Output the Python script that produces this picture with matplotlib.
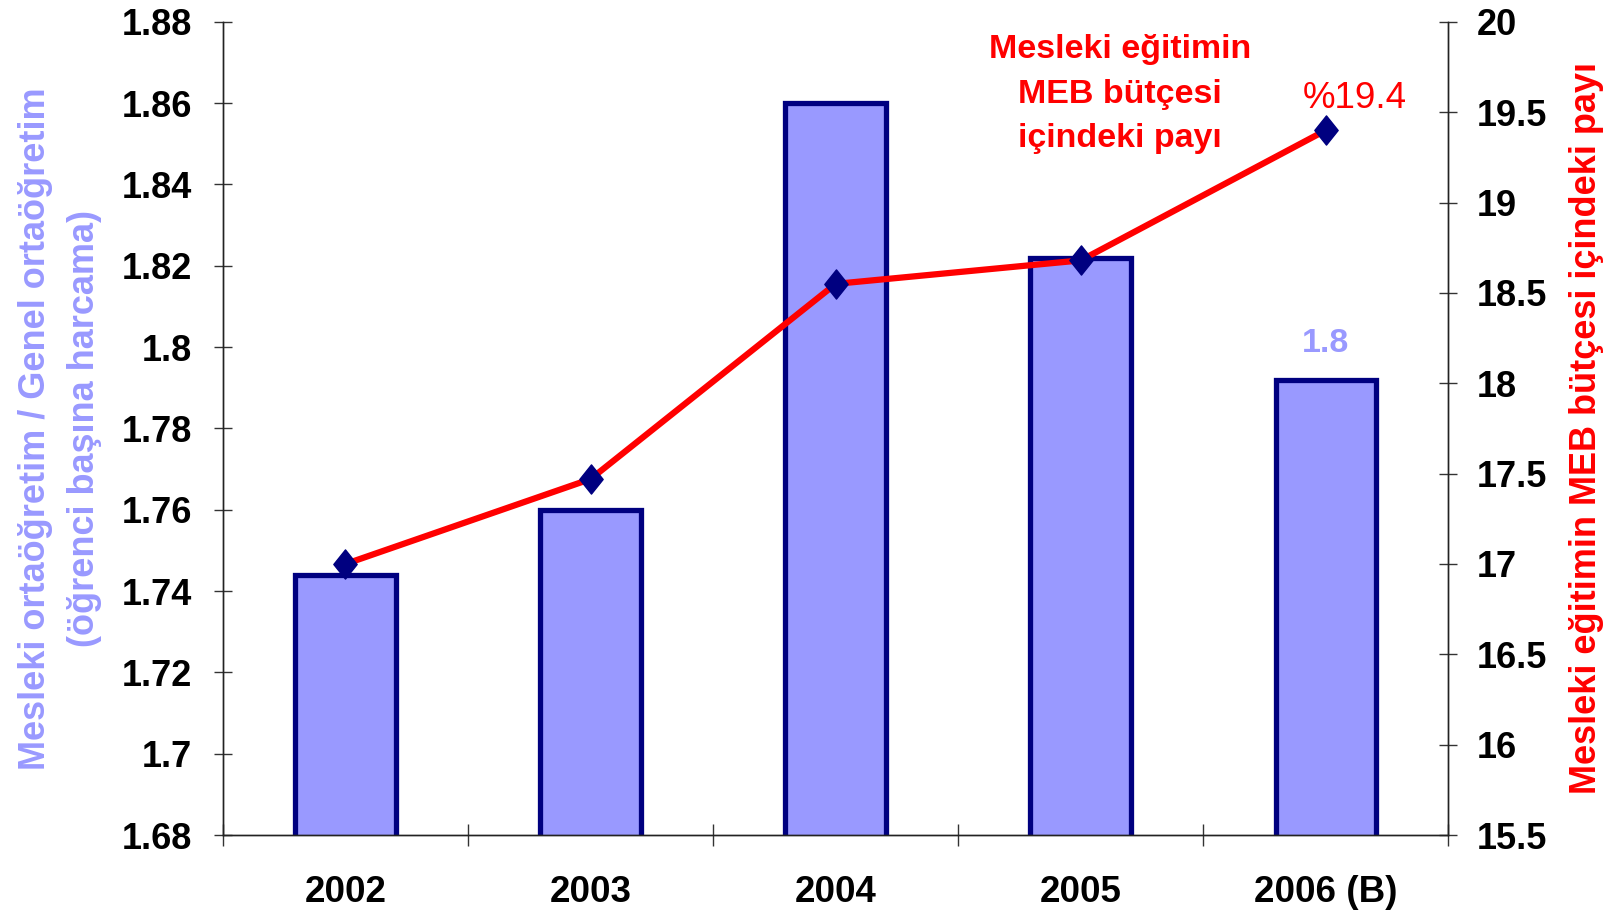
import matplotlib
matplotlib.use("Agg")
import matplotlib.pyplot as plt
from matplotlib.path import Path

plt.rcParams["font.family"] = ["Liberation Sans", "DejaVu Sans"]

years = ["2002", "2003", "2004", "2005", "2006 (B)"]
ratio = [1.744, 1.760, 1.860, 1.822, 1.792]          # bars, left axis
share = [17.0, 17.47, 18.55, 18.68, 19.4]            # line, right axis

left_ticks = [1.68, 1.70, 1.72, 1.74, 1.76, 1.78, 1.80, 1.82, 1.84, 1.86, 1.88]
right_ticks = [15.5, 16, 16.5, 17, 17.5, 18, 18.5, 19, 19.5, 20]

bar_fill = "#9999FF"
navy = "#000080"
red = "#FF0000"

fig = plt.figure(figsize=(16.11, 9.11), dpi=100)
ax = fig.add_axes([0.1384, 0.0834, 0.7606, 0.8926])
ax2 = ax.twinx()

x = list(range(len(years)))
ax.bar(x, ratio, width=0.41, color=bar_fill, edgecolor=navy, linewidth=3.8, zorder=2)
ax.set_ylim(1.68, 1.88)
ax.set_xlim(-0.5, len(years) - 0.5)
ax.set_yticks(left_ticks)
ax.set_yticklabels([f"{v:g}" for v in left_ticks])

# category ticks sit between bars, labels under the bar centres
ax.set_xticks(x)
ax.set_xticklabels(years)
ax.set_xticks([i - 0.5 for i in range(len(years) + 1)], minor=True)
ax.tick_params(axis="x", which="major", length=0, pad=29, labelsize=26.5)
ax.tick_params(axis="x", which="minor", direction="inout", length=16, width=1, color="#333333")
for lab in ax.get_xticklabels():
    lab.set_fontweight("bold")

ax.tick_params(axis="y", direction="inout", length=13, width=1, color="#333333", pad=16, labelsize=26)
for lab in ax.get_yticklabels():
    lab.set_fontweight("bold")

ax.set_ylabel("Mesleki ortaöğretim / Genel ortaöğretim\n(öğrenci başına harcama)",
              color=bar_fill, fontsize=26, fontweight="bold", labelpad=14, linespacing=1.5)

# tall diamond, like the stretched original
diamond = Path([(0, 1), (0.8, 0), (0, -1), (-0.8, 0), (0, 1)],
               [Path.MOVETO, Path.LINETO, Path.LINETO, Path.LINETO, Path.CLOSEPOLY])
ax2.plot(x, share, color=red, linewidth=4.5, zorder=3)
ax2.plot(x, share, linestyle="none", marker=diamond, markersize=21,
         markerfacecolor=navy, markeredgecolor=navy, zorder=4)
ax2.set_ylim(15.5, 20)
ax2.set_yticks(right_ticks)
ax2.set_yticklabels([f"{v:g}" for v in right_ticks])
ax2.tick_params(axis="y", direction="inout", length=13, width=1, color="#333333", pad=14, labelsize=26)
for lab in ax2.get_yticklabels():
    lab.set_fontweight("bold")
ax2.set_ylabel("Mesleki eğitimin MEB bütçesi içindeki payı", color=red,
               fontsize=26, fontweight="bold", labelpad=16)

for a in (ax, ax2):
    a.spines["top"].set_visible(False)
    for s in ("left", "right", "bottom"):
        a.spines[s].set_color("#222222")
        a.spines[s].set_linewidth(1.0)
    a.set_facecolor("none")

# data labels
ax.annotate(f"{ratio[-1]:.1f}", (x[-1], ratio[-1]), xytext=(0, 15), textcoords="offset points",
            ha="center", va="bottom", color=bar_fill, fontsize=24.5, fontweight="bold")
ax2.annotate(f"%{share[-1]:.1f}", (x[-1], share[-1]), xytext=(21, 10), textcoords="offset points",
             ha="center", va="bottom", color=red, fontsize=26.5)

ax2.text(3.16, 19.6, "Mesleki eğitimin\nMEB bütçesi\niçindeki payı", ha="center", va="center",
         color=red, fontsize=24.5, fontweight="bold", linespacing=1.56)

fig.savefig("out.png", dpi=100, facecolor="white")
